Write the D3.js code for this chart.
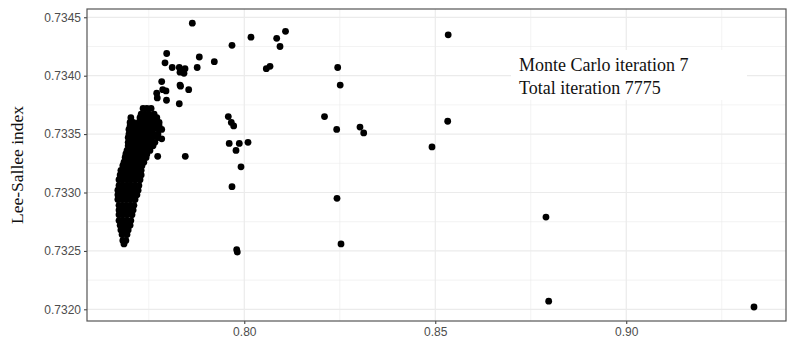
<!DOCTYPE html>
<html>
<head>
<meta charset="utf-8">
<script src="https://cdn.jsdelivr.net/npm/d3@7"></script>
<style>
  body { margin: 0; background: #fff; }
  .grid line { stroke: #ebebeb; }
  .tick text { font-family: "Liberation Sans", Arial, sans-serif; font-size: 12px; fill: #4d4d4d; }
</style>
</head>
<body>
<div id="chart"></div>
<script>
// tick values
var xTicks = [0.80, 0.85, 0.90],
    xMinor = [0.775, 0.825, 0.875, 0.925],
    yTicks = [0.7320, 0.7325, 0.7330, 0.7335, 0.7340, 0.7345],
    yMinor = [0.73225, 0.73275, 0.73325, 0.73375, 0.73425];

// the dense blob (y of the row, x values in the row)
var clusterY = [0.73372, 0.73367, 0.73364, 0.73360, 0.73357, 0.73354, 0.73350, 0.73347,
  0.73343, 0.73340, 0.73336, 0.73333, 0.73330, 0.73326, 0.73323, 0.73319, 0.73315,
  0.73311, 0.73306, 0.73302, 0.73298, 0.73294, 0.73289, 0.73285, 0.73281, 0.73276,
  0.73272, 0.73268, 0.73264, 0.73259, 0.73256];

var clusterX = [
  [0.7735, 0.7745, 0.7756],
  [0.7730, 0.7740, 0.7750, 0.7764],
  [0.7703, 0.7727, 0.7737, 0.7748, 0.7758, 0.7771],
  [0.7701, 0.7709, 0.7724, 0.7735, 0.7745, 0.7756, 0.7766, 0.7777],
  [0.7701, 0.7711, 0.7722, 0.7732, 0.7743, 0.7753, 0.7764, 0.7777],
  [0.7698, 0.7709, 0.7719, 0.7730, 0.7740, 0.7750, 0.7761, 0.7777],
  [0.7698, 0.7709, 0.7719, 0.7730, 0.7740, 0.7750, 0.7761, 0.7774],
  [0.7696, 0.7706, 0.7716, 0.7727, 0.7737, 0.7748, 0.7758, 0.7774],
  [0.7696, 0.7706, 0.7716, 0.7727, 0.7737, 0.7748, 0.7758, 0.7766],
  [0.7696, 0.7706, 0.7716, 0.7727, 0.7737, 0.7748, 0.7761],
  [0.7693, 0.7703, 0.7714, 0.7724, 0.7735, 0.7745, 0.7753],
  [0.7690, 0.7701, 0.7711, 0.7722, 0.7732, 0.7745],
  [0.7688, 0.7698, 0.7709, 0.7719, 0.7730, 0.7743],
  [0.7685, 0.7696, 0.7706, 0.7716, 0.7727, 0.7737],
  [0.7682, 0.7693, 0.7703, 0.7714, 0.7724, 0.7732],
  [0.7677, 0.7688, 0.7698, 0.7709, 0.7719, 0.7730],
  [0.7675, 0.7685, 0.7696, 0.7706, 0.7716, 0.7730],
  [0.7672, 0.7682, 0.7693, 0.7703, 0.7714, 0.7727],
  [0.7672, 0.7682, 0.7693, 0.7703, 0.7714, 0.7724],
  [0.7669, 0.7680, 0.7690, 0.7701, 0.7711, 0.7722],
  [0.7669, 0.7680, 0.7690, 0.7701, 0.7711, 0.7719],
  [0.7669, 0.7680, 0.7690, 0.7701, 0.7714],
  [0.7672, 0.7682, 0.7693, 0.7703, 0.7711],
  [0.7672, 0.7682, 0.7693, 0.7701, 0.7709],
  [0.7672, 0.7682, 0.7693, 0.7706],
  [0.7672, 0.7682, 0.7693, 0.7703],
  [0.7675, 0.7685, 0.7693, 0.7701],
  [0.7677, 0.7688, 0.7696],
  [0.7680, 0.7693],
  [0.7682, 0.7690],
  [0.7685]
];

// the scattered points outside the blob
var outlierX = [0.78639, 0.77968, 0.78822, 0.77924, 0.78112, 0.78298, 0.78448, 0.78317,
  0.78421, 0.78767, 0.79215, 0.79678, 0.80175, 0.80848, 0.81079, 0.80935, 0.80576,
  0.80673, 0.77838, 0.77707, 0.77864, 0.77950, 0.78317, 0.78330, 0.78544, 0.77722,
  0.77963, 0.78298, 0.77838, 0.77838, 0.77733, 0.78455, 0.79581, 0.79660, 0.79722,
  0.79605, 0.79869, 0.80097, 0.79783, 0.79914, 0.79678, 0.79801, 0.79817, 0.82445,
  0.82511, 0.82100, 0.82419, 0.83029, 0.83126, 0.82427, 0.82532, 0.85338, 0.85325,
  0.84914, 0.87898, 0.87969, 0.93344];
var outlierY = [0.73445, 0.73419, 0.73416, 0.73411, 0.73407, 0.73407, 0.73406, 0.73403,
  0.73402, 0.73407, 0.73412, 0.73426, 0.73433, 0.73432, 0.73438, 0.73425, 0.73406,
  0.73408, 0.73395, 0.73385, 0.73388, 0.73387, 0.73392, 0.73391, 0.73388, 0.73381,
  0.73379, 0.73376, 0.73354, 0.73346, 0.73331, 0.73331, 0.73365, 0.73360, 0.73357,
  0.73342, 0.73342, 0.73343, 0.73336, 0.73322, 0.73305, 0.73251, 0.73249, 0.73407,
  0.73392, 0.73365, 0.73354, 0.73356, 0.73351, 0.73295, 0.73256, 0.73435, 0.73361,
  0.73339, 0.73279, 0.73207, 0.73202];

var labelLines = ["Monte Carlo iteration 7", "Total iteration 7775"];

var width = 798,
    height = 344,
    margin = {top: 9, right: 12, bottom: 23, left: 87};

// put all points in one list
var points = [];
clusterY.forEach(function(y, i) {
  clusterX[i].forEach(function(x) { points.push([x, y]); });
});
outlierX.forEach(function(x, i) { points.push([x, outlierY[i]]); });

var x = d3.scaleLinear()
    .domain([0.75882, 0.94182])
    .range([margin.left, width - margin.right]);

var y = d3.scaleLinear()
    .domain([0.73190, 0.734571])
    .range([height - margin.bottom, margin.top]);

var svg = d3.select("#chart").append("svg")
    .attr("width", width)
    .attr("height", height);

// grid lines, minor first then major
var grid = svg.append("g").attr("class", "grid");

grid.selectAll(".vminor").data(xMinor).enter().append("line")
    .attr("x1", d => x(d)).attr("x2", d => x(d))
    .attr("y1", margin.top).attr("y2", height - margin.bottom)
    .attr("stroke-width", 0.6);
grid.selectAll(".hminor").data(yMinor).enter().append("line")
    .attr("y1", d => y(d)).attr("y2", d => y(d))
    .attr("x1", margin.left).attr("x2", width - margin.right)
    .attr("stroke-width", 0.6);
grid.selectAll(".vmajor").data(xTicks).enter().append("line")
    .attr("x1", d => x(d)).attr("x2", d => x(d))
    .attr("y1", margin.top).attr("y2", height - margin.bottom)
    .attr("stroke-width", 1.2);
grid.selectAll(".hmajor").data(yTicks).enter().append("line")
    .attr("y1", d => y(d)).attr("y2", d => y(d))
    .attr("x1", margin.left).attr("x2", width - margin.right)
    .attr("stroke-width", 1.2);

// white box behind the annotation
svg.append("rect")
    .attr("x", 511)
    .attr("y", 50)
    .attr("width", 236)
    .attr("height", 50)
    .attr("fill", "#fff");

svg.append("g").selectAll("circle")
    .data(points)
  .enter().append("circle")
    .attr("cx", d => x(d[0]))
    .attr("cy", d => y(d[1]))
    .attr("r", 3.4)
    .attr("fill", "#000");

// axes
var xAxis = svg.append("g")
    .attr("transform", "translate(0," + (height - margin.bottom) + ")")
    .call(d3.axisBottom(x).tickValues(xTicks).tickFormat(d3.format(".2f")).tickSize(3).tickPadding(3));
var yAxis = svg.append("g")
    .attr("transform", "translate(" + margin.left + ",0)")
    .call(d3.axisLeft(y).tickValues(yTicks).tickFormat(d3.format(".4f")).tickSize(3).tickPadding(3));

[xAxis, yAxis].forEach(function(a) {
  a.select(".domain").remove();
  a.selectAll(".tick line").attr("stroke", "#333");
});

// panel border
svg.append("rect")
    .attr("x", margin.left)
    .attr("y", margin.top)
    .attr("width", width - margin.left - margin.right)
    .attr("height", height - margin.top - margin.bottom)
    .attr("fill", "none")
    .attr("stroke", "#555")
    .attr("stroke-width", 1.2);

// y axis title
svg.append("text")
    .attr("transform", "translate(23," + ((margin.top + height - margin.bottom) / 2) + ") rotate(-90)")
    .attr("text-anchor", "middle")
    .style("font-family", "'Liberation Serif', 'Times New Roman', serif")
    .style("font-size", "17.5px")
    .attr("fill", "#111")
    .text("Lee-Sallee index");

// annotation
svg.append("g").selectAll("text")
    .data(labelLines)
  .enter().append("text")
    .attr("x", 519)
    .attr("y", (d, i) => 71 + i * 23)
    .style("font-family", "'Liberation Serif', 'Times New Roman', serif")
    .style("font-size", "18px")
    .attr("fill", "#111")
    .text(d => d);
</script>
</body>
</html>
